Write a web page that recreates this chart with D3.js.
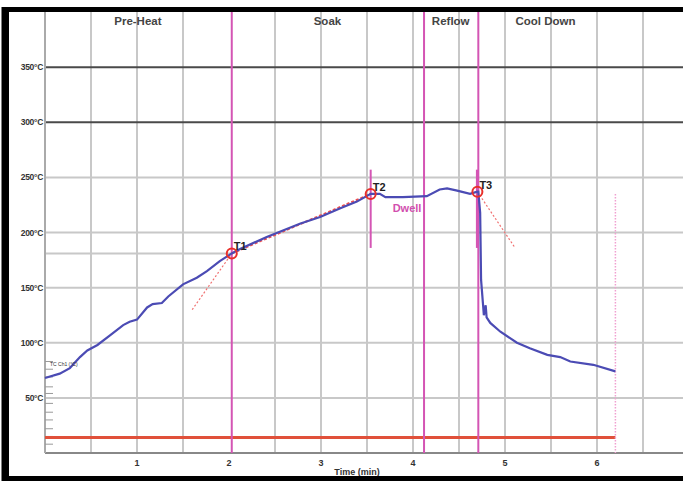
<!DOCTYPE html>
<html>
<head>
<meta charset="utf-8">
<script src="https://d3js.org/d3.v7.min.js"></script>
<style>
  body { margin: 0; background: #fff; }
  svg { display: block; font-family: "Liberation Sans", Arial, sans-serif; }
  .grid line { stroke: #c8c8c8; stroke-width: 2; }
  .ylab { font-size: 8.5px; font-weight: bold; fill: #333; letter-spacing: -0.3px; }
  .xlab { font-size: 9px; font-weight: bold; fill: #333; }
  .phase { font-size: 11.5px; font-weight: bold; fill: #444; }
</style>
</head>
<body>
<svg width="683" height="481"></svg>
<script>
// profile readings (minutes, degC)
var timeMin = [0, 0.16, 0.27, 0.38, 0.46, 0.57, 0.71, 0.85, 0.92, 1.0, 1.11, 1.17, 1.27, 1.34, 1.5, 1.65, 1.76, 1.9, 2.03, 2.12,
  2.41, 2.77, 2.99, 3.21, 3.39, 3.54, 3.64, 3.7, 3.89, 4.15, 4.29, 4.37, 4.48, 4.62, 4.7,
  4.71, 4.73, 4.74, 4.76, 4.77, 4.79, 4.8, 4.84, 4.95, 5.13, 5.27, 5.46, 5.6, 5.71, 5.96, 6.2];
var tempC = [68, 72, 77, 87, 93, 98, 107, 116, 119, 121, 132, 135, 136, 142, 153, 159, 165, 174, 181, 185,
  196, 208, 214, 222, 228, 235, 235, 232, 232, 233, 239, 240, 238, 235, 237,
  237, 218, 157, 136, 125, 134, 123, 118, 110, 100, 95, 89, 87, 83, 80, 74];

var phaseNames = ["Pre-Heat", "Soak", "Reflow", "Cool Down"];
var phaseCenters = [1.01, 3.07, 4.41, 5.44];
var phaseBounds = [2.03, 4.12, 4.71];

var keyNames = ["T1", "T2", "T3"];
var keyTimes = [2.03, 3.54, 4.7];
var keyTemps = [181, 235, 237];

var xTicks = [1, 2, 3, 4, 5, 6];
var xGrid = [0.5, 1, 1.5, 2.5, 3, 3.5, 4, 4.5, 5, 5.5, 6, 6.5];
var yTicks = [50, 100, 150, 200, 250, 300, 350];
var minorTicks = [8, 15, 22, 30, 37, 45, 54, 60, 69, 76, 83];
var lowLimit = 14;
var endTime = 6.2;

var svg = d3.select("svg");
var x = d3.scaleLinear().domain([0, 7]).range([45, 689]);
var y = d3.scaleLinear().domain([0, 400]).range([453, 12]);

// grid
var grid = svg.append("g").attr("class", "grid");
grid.selectAll(".vx").data(xGrid).enter().append("line")
  .attr("x1", d => x(d)).attr("x2", d => x(d))
  .attr("y1", y(400)).attr("y2", y(0));
grid.selectAll(".hy").data(yTicks).enter().append("line")
  .attr("x1", x(0)).attr("x2", 683)
  .attr("y1", d => y(d)).attr("y2", d => y(d))
  .style("stroke", d => d >= 300 ? "#4a4a4a" : null);
// level line at T1
grid.append("line")
  .attr("x1", x(0)).attr("x2", x(keyTimes[0]))
  .attr("y1", y(keyTemps[0])).attr("y2", y(keyTemps[0]));

// axes lines
svg.append("line").attr("x1", x(0)).attr("x2", 683).attr("y1", y(0)).attr("y2", y(0))
  .attr("stroke", "#888").attr("stroke-width", 2);
svg.append("line").attr("x1", x(0)).attr("x2", x(0)).attr("y1", y(400)).attr("y2", y(0))
  .attr("stroke", "#aaa").attr("stroke-width", 2);

svg.selectAll(".mt").data(minorTicks).enter().append("line")
  .attr("x1", x(0)).attr("x2", x(0) + 8)
  .attr("y1", d => y(d)).attr("y2", d => y(d))
  .attr("stroke", "#999").attr("stroke-width", 1);

// tick labels
svg.selectAll(".yl").data(yTicks).enter().append("text")
  .attr("class", "ylab").attr("text-anchor", "end")
  .attr("x", x(0) - 2).attr("y", d => y(d) + 3)
  .text(d => d + "°C");
svg.selectAll(".xl").data(xTicks).enter().append("text")
  .attr("class", "xlab").attr("text-anchor", "middle")
  .attr("x", d => x(d)).attr("y", 466)
  .text(d => d);
svg.append("text").attr("class", "xlab").attr("text-anchor", "middle")
  .attr("x", 357).attr("y", 475).text("Time (min)");

// low limit line
svg.append("line")
  .attr("x1", x(0)).attr("x2", x(endTime))
  .attr("y1", y(lowLimit)).attr("y2", y(lowLimit))
  .attr("stroke", "#e0503a").attr("stroke-width", 3);
// end marker
svg.append("line")
  .attr("x1", x(endTime)).attr("x2", x(endTime))
  .attr("y1", y(235)).attr("y2", y(0))
  .attr("stroke", "#f0a0d0").attr("stroke-width", 1.5).attr("stroke-dasharray", "1.5 1.5");

// phase boundaries
svg.selectAll(".pb").data(phaseBounds).enter().append("line")
  .attr("x1", d => x(d)).attr("x2", d => x(d))
  .attr("y1", y(400)).attr("y2", y(0))
  .attr("stroke", "#d455b4").attr("stroke-width", 2);
svg.selectAll(".pn").data(phaseNames).enter().append("text")
  .attr("class", "phase").attr("text-anchor", "middle")
  .attr("x", (d, i) => x(phaseCenters[i])).attr("y", 25)
  .text(d => d);

// short markers at T2, T3
svg.selectAll(".km").data([1, 2]).enter().append("line")
  .attr("x1", i => x(keyTimes[i])).attr("x2", i => x(keyTimes[i]))
  .attr("y1", y(257)).attr("y2", y(186))
  .attr("stroke", "#d455b4").attr("stroke-width", i => i == 2 ? 3 : 2);

// tangent lines
svg.append("line")
  .attr("x1", x(1.6)).attr("x2", x(keyTimes[0]))
  .attr("y1", y(130)).attr("y2", y(keyTemps[0]))
  .attr("stroke", "#f07070").attr("stroke-width", 1.2).attr("stroke-dasharray", "2 2");
svg.append("line")
  .attr("x1", x(keyTimes[2])).attr("x2", x(5.11))
  .attr("y1", y(keyTemps[2])).attr("y2", y(186))
  .attr("stroke", "#f07070").attr("stroke-width", 1.2).attr("stroke-dasharray", "2 2");
svg.append("line")
  .attr("x1", x(keyTimes[0])).attr("x2", x(keyTimes[1]))
  .attr("y1", y(keyTemps[0])).attr("y2", y(keyTemps[1]))
  .attr("stroke", "#f05050").attr("stroke-width", 2).attr("stroke-dasharray", "3 2");

// profile
var line = d3.line().x((d, i) => x(timeMin[i])).y(d => y(d));
svg.append("path").datum(tempC)
  .attr("d", line)
  .attr("fill", "none")
  .attr("stroke", "#4b4bb4")
  .attr("stroke-width", 2.2);

svg.append("text").attr("x", 50).attr("y", 366)
  .attr("font-size", 5).attr("fill", "#333").text("TC Ch1 (°C)");

// key points
svg.selectAll(".kc").data(keyNames).enter().append("circle")
  .attr("cx", (d, i) => x(keyTimes[i])).attr("cy", (d, i) => y(keyTemps[i]))
  .attr("r", 5).attr("fill", "none").attr("stroke", "#e8302a").attr("stroke-width", 2);
svg.selectAll(".kl").data(keyNames).enter().append("text")
  .attr("x", (d, i) => x(keyTimes[i]) + 2).attr("y", (d, i) => y(keyTemps[i]) - 3)
  .attr("font-size", 11).attr("font-weight", "bold").attr("fill", "#222")
  .text(d => d);
svg.append("text").attr("x", 407).attr("y", 212).attr("text-anchor", "middle")
  .attr("font-size", 11).attr("font-weight", "bold").attr("fill", "#d24fae")
  .text("Dwell");

// frame
svg.append("rect").attr("x", 6.5).attr("y", 9.5).attr("width", 690).attr("height", 469)
  .attr("fill", "none").attr("stroke", "#000").attr("stroke-width", 5);
svg.append("line").attr("x1", 3).attr("x2", 3).attr("y1", 7).attr("y2", 481)
  .attr("stroke", "#000").attr("stroke-width", 3);
</script>
</body>
</html>
